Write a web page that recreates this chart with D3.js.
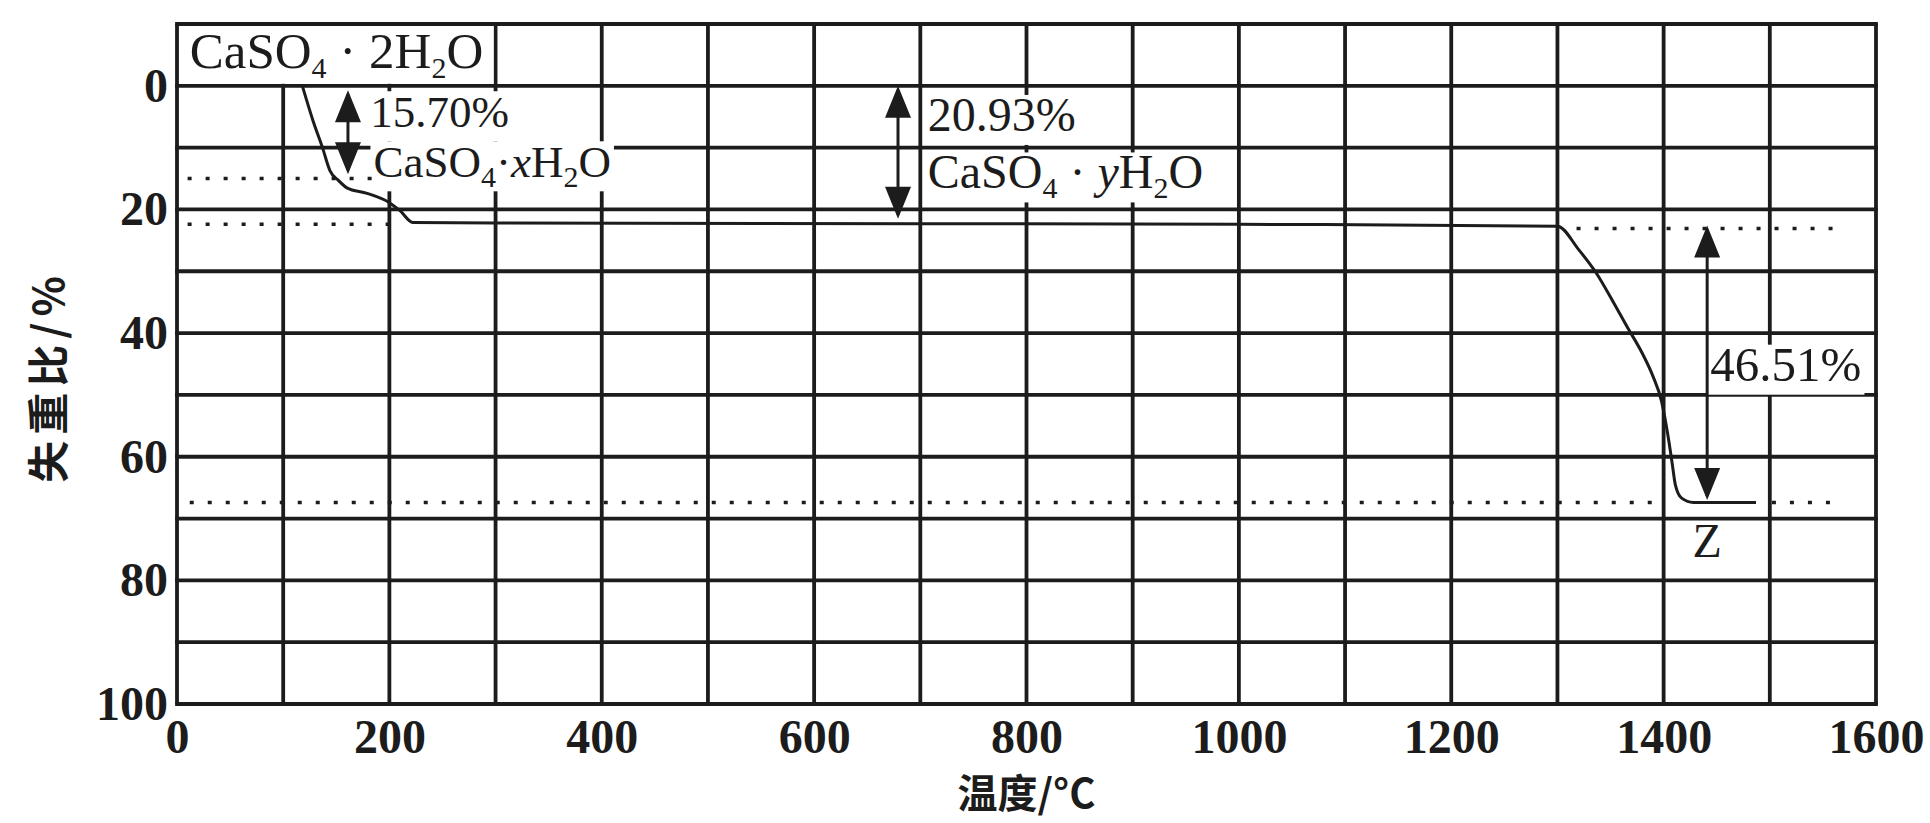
<!DOCTYPE html>
<html>
<head>
<meta charset="utf-8">
<script src="https://cdn.jsdelivr.net/npm/d3@7"></script>
<style>
  body { margin: 0; background: #fff; overflow: hidden; }
</style>
</head>
<body>
<div id="chart"></div>
<script>
// TG curve of gypsum (temperature in °C, mass loss in %)
const curveTemp = [118, 128, 137, 144, 152, 160, 179, 200, 210, 222, 300, 700, 1000, 1300, 1320, 1337, 1352, 1366, 1380, 1390, 1398, 1404, 1408, 1411, 1417, 1428, 1487];
const curveLoss = [0, 5.6, 10, 13.7, 15.3, 16.5, 17.4, 18.9, 20.2, 22.1, 22.2, 22.3, 22.4, 22.7, 26.5, 30.4, 34.8, 39.1, 43.3, 47, 51, 56.5, 61, 64.5, 66.7, 67.4, 67.4];

// axis ticks
const tempTicks = [0, 200, 400, 600, 800, 1000, 1200, 1400, 1600];
const lossTicks = [0, 20, 40, 60, 80, 100];
const gridTemps = d3.range(0, 1601, 100);
const gridLoss = d3.range(-10, 101, 10);

// dotted reference levels
const dotLoss = [15, 22.4, 23.1, 67.4, 67.4];
const dotFrom = [10, 10, 1318, 12, 1502];
const dotTo = [186, 208, 1566, 1389, 1560];

// double arrows
const arrowTemp = [161, 679, 1441];
const arrowTop = [0.7, 0, 22.6];
const arrowBottom = [14.3, 21.5, 67];

// text labels: [text, kind] parts
const labelParts = [
  [['CaSO'], ['4', 'sub'], [' · 2H'], ['2', 'sub'], ['O']],
  [['15.70%']],
  [['CaSO'], ['4', 'sub'], ['·'], ['x', 'it'], ['H'], ['2', 'sub'], ['O']],
  [['20.93%']],
  [['CaSO'], ['4', 'sub'], [' · '], ['y', 'it'], ['H'], ['2', 'sub'], ['O']],
  [['46.51%']],
  [['Z']],
];
const labelTemp = [12, 182, 185, 707, 707, 1444, 1441];
const labelLoss = [-2.9, 6.7, 14.8, 7.3, 16.6, 47.7, 76.3];
const labelAnchor = ['start', 'start', 'start', 'start', 'start', 'start', 'middle'];

const ink = '#1c1c1c';
const serif = "'Liberation Serif', 'Times New Roman', serif";
const cjk = "'Noto Sans CJK SC', sans-serif";
const labelFont = [51, 45, 45, 48, 48, 49, 48];

const margin = { top: 24, right: 54, bottom: 119, left: 177 };
const width = 1930 - margin.left - margin.right;
const height = 823 - margin.top - margin.bottom;

const svg = d3
  .select('#chart')
  .append('svg')
  .attr('width', width + margin.left + margin.right)
  .attr('height', height + margin.top + margin.bottom);

const group = svg
  .append('g')
  .attr('transform', 'translate(' + margin.left + ',' + margin.top + ')');

const xScale = d3.scaleLinear().domain([0, 1600]).range([0, width]);
const yScale = d3.scaleLinear().domain([-10, 100]).range([0, height]);

// grid
group
  .selectAll('.vgrid')
  .data(gridTemps)
  .join('line')
  .attr('class', 'vgrid')
  .attr('x1', (d) => xScale(d))
  .attr('x2', (d) => xScale(d))
  .attr('y1', yScale(-10))
  .attr('y2', yScale(100))
  .attr('stroke', ink)
  .attr('stroke-width', 3.8);

group
  .selectAll('.hgrid')
  .data(gridLoss)
  .join('line')
  .attr('class', 'hgrid')
  .attr('x1', xScale(0) - 1.9)
  .attr('x2', xScale(1600) + 1.9)
  .attr('y1', (d) => yScale(d))
  .attr('y2', (d) => yScale(d))
  .attr('stroke', ink)
  .attr('stroke-width', 3.8);

// axes (labels only, the grid does the lines)
const xAxis = d3
  .axisBottom(xScale)
  .tickValues(tempTicks)
  .tickFormat(d3.format('d'))
  .tickSize(0)
  .tickPadding(15);
const yAxis = d3
  .axisLeft(yScale)
  .tickValues(lossTicks)
  .tickFormat(d3.format('d'))
  .tickSize(0)
  .tickPadding(9);

const xAxisGroup = group
  .append('g')
  .attr('transform', 'translate(0,' + height + ')')
  .call(xAxis);
const yAxisGroup = group.append('g').call(yAxis);

[xAxisGroup, yAxisGroup].forEach((g) => {
  g.select('.domain').remove();
  g.selectAll('text')
    .attr('fill', ink)
    .style('font-family', serif)
    .style('font-weight', 'bold')
    .style('font-size', '48px');
});

// labels with white backing
const labelGroup = group.append('g');
labelParts.forEach((parts, i) => {
  const x = xScale(labelTemp[i]);
  const y = yScale(labelLoss[i]);
  const bg = labelGroup.append('rect').attr('fill', '#fff');
  const text = labelGroup
    .append('text')
    .attr('x', x)
    .attr('y', y)
    .attr('text-anchor', labelAnchor[i])
    .attr('fill', ink)
    .style('font-family', serif)
    .style('font-size', labelFont[i] + 'px');
  let shifted = false;
  parts.forEach(([s, kind]) => {
    const t = text.append('tspan').text(s);
    if (kind === 'sub') {
      t.attr('dy', 10).style('font-size', '30px');
      shifted = true;
    } else {
      if (shifted) t.attr('dy', -10);
      shifted = false;
      if (kind === 'it') t.style('font-style', 'italic');
    }
  });
  if (i === 0) {
    // this one sits in its own grid cell
    bg.attr('x', xScale(0) + 2)
      .attr('y', yScale(-10) + 2)
      .attr('width', xScale(300) - xScale(0) - 4)
      .attr('height', yScale(0) - yScale(-10) - 4);
  } else {
    const box = text.node().getBBox();
    bg.attr('x', box.x - 3)
      .attr('y', y - 36)
      .attr('width', box.width + 6)
      .attr('height', 50);
  }
});

// dotted levels
group
  .selectAll('.dots')
  .data(dotLoss)
  .join('line')
  .attr('class', 'dots')
  .attr('x1', (d, i) => xScale(dotFrom[i]))
  .attr('x2', (d, i) => xScale(dotTo[i]))
  .attr('y1', (d) => yScale(d))
  .attr('y2', (d) => yScale(d))
  .attr('stroke', ink)
  .attr('stroke-width', 3.5)
  .attr('stroke-dasharray', '4 14');

// TG curve
const line = d3
  .line()
  .x((d) => xScale(d[0]))
  .y((d) => yScale(d[1]))
  .curve(d3.curveMonotoneX);

group
  .append('path')
  .datum(curveTemp.map((t, i) => [t, curveLoss[i]]))
  .attr('d', line)
  .attr('fill', 'none')
  .attr('stroke', ink)
  .attr('stroke-width', 3)
  .attr('stroke-linejoin', 'round');

// double arrows
const headLen = 32;
const headHalf = 13;
arrowTemp.forEach((t, i) => {
  const x = xScale(t);
  const y1 = yScale(arrowTop[i]);
  const y2 = yScale(arrowBottom[i]);
  group
    .append('line')
    .attr('x1', x)
    .attr('x2', x)
    .attr('y1', y1 + 4)
    .attr('y2', y2 - 4)
    .attr('stroke', ink)
    .attr('stroke-width', 3);
  group
    .append('path')
    .attr(
      'd',
      'M' + x + ',' + y1 + 'L' + (x - headHalf) + ',' + (y1 + headLen) + 'L' + (x + headHalf) + ',' + (y1 + headLen) + 'Z' +
      'M' + x + ',' + y2 + 'L' + (x - headHalf) + ',' + (y2 - headLen) + 'L' + (x + headHalf) + ',' + (y2 - headLen) + 'Z'
    )
    .attr('fill', ink);
});

// axis titles
svg
  .append('text')
  .attr('transform', 'translate(45,' + (margin.top + yScale(47)) + ') rotate(-90)')
  .attr('text-anchor', 'middle')
  .attr('dominant-baseline', 'central')
  .attr('fill', ink)
  .style('font-family', cjk)
  .style('font-weight', 'bold')
  .style('font-size', '42px')
  .style('letter-spacing', '6px')
  .text('失重比/%');

svg
  .append('text')
  .attr('x', margin.left + xScale(800))
  .attr('y', 808)
  .attr('text-anchor', 'middle')
  .attr('fill', ink)
  .style('font-family', cjk)
  .style('font-weight', 'bold')
  .style('font-size', '40px')
  .text('温度/°C');
</script>
</body>
</html>
